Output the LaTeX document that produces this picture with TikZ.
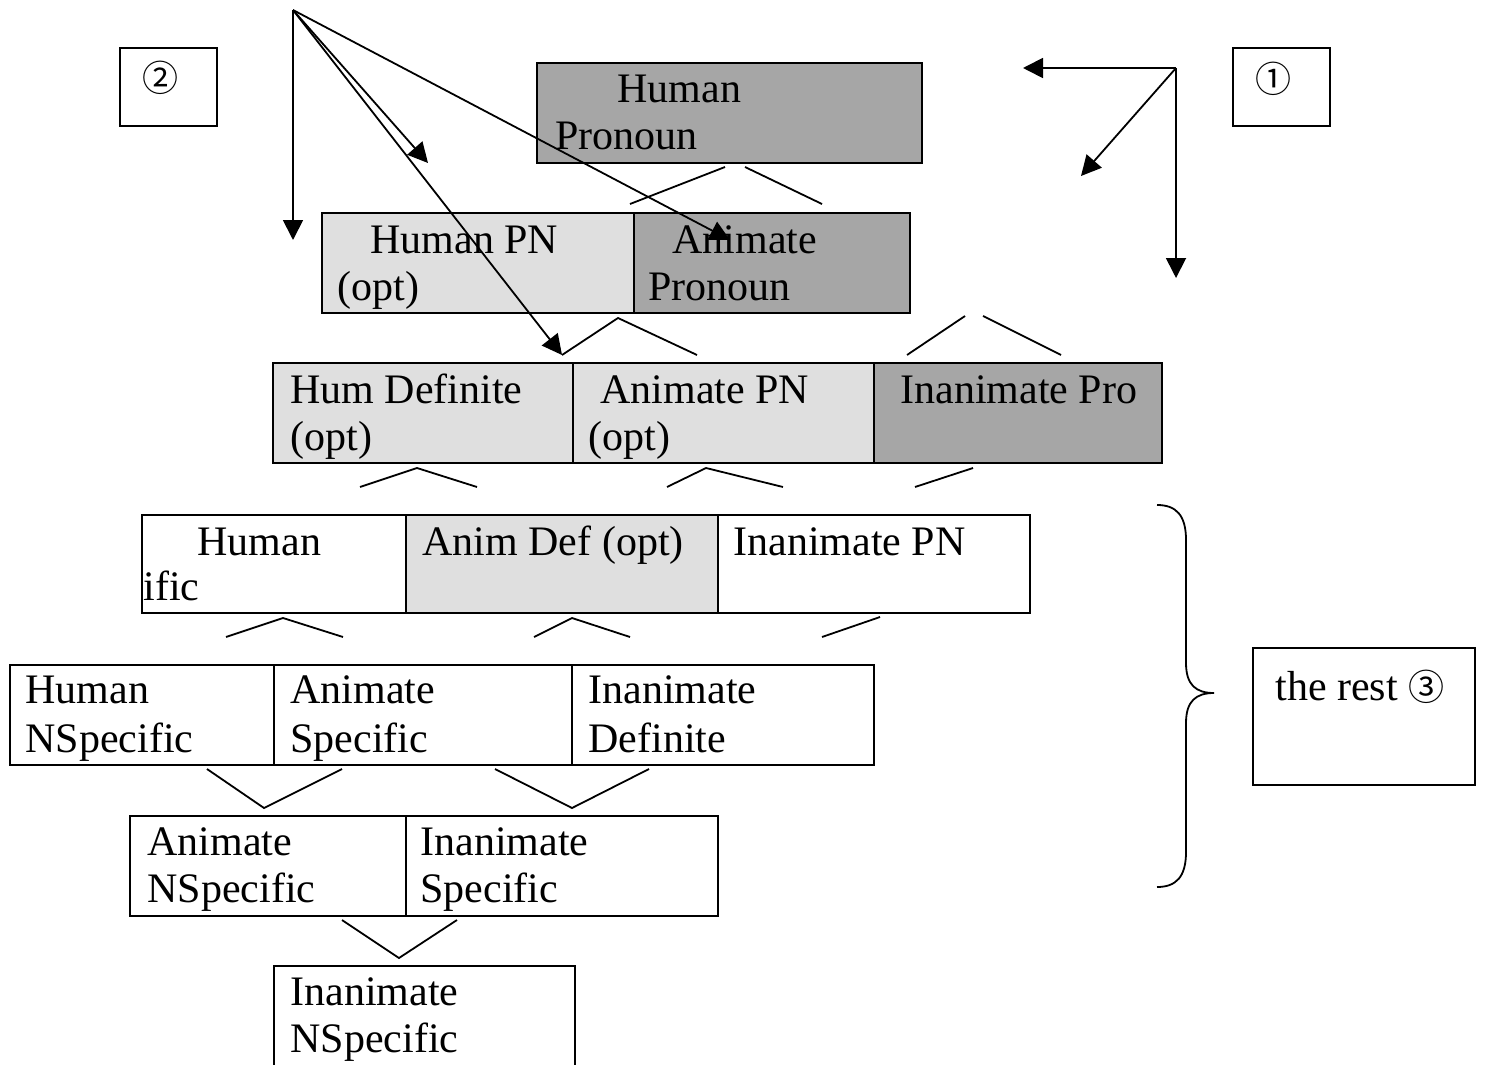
\documentclass[tikz,border=0pt]{standalone}
\usepackage{fontspec}
\setmainfont{Liberation Serif}
\newfontfamily\circfont{Noto Sans CJK SC}
\usetikzlibrary{arrows.meta}
\definecolor{darkcell}{RGB}{166,166,166}
\definecolor{lightcell}{RGB}{223,223,223}
\newcommand{\cellfont}{\fontsize{21}{24}\selectfont}
\newcommand{\enc}[1]{{\circfont\fontsize{18}{20}\selectfont #1}}

\begin{document}
\begin{tikzpicture}[x=0.5pt, y=-0.5pt,
		cellbox/.style={draw=black, line width=1.2pt},
		txt/.style={anchor=base west, inner sep=0pt, font=\cellfont},
		arr/.style={-{Triangle[length=10pt,width=10pt]}, line width=0.9pt},
		fork/.style={line width=0.9pt}]
				\clip (0,0) rectangle (1486,1064);
				% side boxes
				\draw[cellbox] (120,48) rectangle (217,126);
				\draw[cellbox] (1233,48) rectangle (1330,126);
				\draw[cellbox] (1253,648) rectangle (1475,785);
				\node[txt] (two) at (142,92) {\enc{②}};
				\node[txt] (one) at (1255,93) {\enc{①}};
				\node[txt] (rest) at (1275,700) {the rest \enc{③}};
				% rows
				\filldraw[cellbox, fill=darkcell] (537,63) rectangle (922,163);
				\filldraw[cellbox, fill=lightcell] (322,213) rectangle (634,313);
				\filldraw[cellbox, fill=darkcell] (634,213) rectangle (910,313);
				\filldraw[cellbox, fill=lightcell] (273,363) rectangle (573,463);
				\filldraw[cellbox, fill=lightcell] (573,363) rectangle (874,463);
				\filldraw[cellbox, fill=darkcell] (874,363) rectangle (1162,463);
				\filldraw[cellbox, fill=white] (142,515) rectangle (406,613);
				\filldraw[cellbox, fill=lightcell] (406,515) rectangle (718,613);
				\filldraw[cellbox, fill=white] (718,515) rectangle (1030,613);
				\foreach \a/\b in {10/274, 274/572, 572/874}
					\draw[cellbox] (\a,665) rectangle (\b,765);
				\foreach \a/\b in {130/406, 406/718}
					\draw[cellbox] (\a,816) rectangle (\b,916);
				\draw[cellbox] (274,966) rectangle (575,1080);
				% labels
				\node[txt] (humA) at (617,103) {Human};
				\node[txt] (humB) at (555,150) {Pronoun};
				\node[txt] (hpnA) at (370,253) {Human PN};
				\node[txt] (hpnB) at (337,300) {(opt)};
				\node[txt] (aniA) at (672,253) {Animate};
				\node[txt] (aniB) at (648,300) {Pronoun};
				\node[txt] (hdefA) at (290,403) {Hum Definite};
				\node[txt] (hdefB) at (290,450) {(opt)};
				\node[txt] (apnA) at (600,403) {Animate PN};
				\node[txt] (apnB) at (588,450) {(opt)};
				\node[txt] (ipro) at (900,403) {Inanimate Pro};
				\node[txt] (hspA) at (197,555) {Human};
				\node[txt] (hspB) at (143,600) {ific};
				\node[txt] (adef) at (422,555) {Anim Def (opt)};
				\node[txt] (ipn) at (733,555) {Inanimate PN};
				\node[txt] (hnsA) at (25,703) {Human};
				\node[txt] (hnsB) at (25,752) {NSpecific};
				\node[txt] (aspA) at (290,703) {Animate};
				\node[txt] (aspB) at (290,752) {Specific};
				\node[txt] (idefA) at (588,703) {Inanimate};
				\node[txt] (idefB) at (588,752) {Definite};
				\node[txt] (ansA) at (147,855) {Animate};
				\node[txt] (ansB) at (147,902) {NSpecific};
				\node[txt] (ispA) at (420,855) {Inanimate};
				\node[txt] (ispB) at (420,902) {Specific};
				\node[txt] (insA) at (290,1005) {Inanimate};
				\node[txt] (insB) at (290,1052) {NSpecific};
				% forks between rows
				\draw[fork] (630,204) -- (725,167);
				\draw[fork] (745,167) -- (822,204);
				\draw[fork] (562,355) -- (618,318) -- (697,355);
				\draw[fork] (907,355) -- (965,316);
				\draw[fork] (983,316) -- (1061,355);
				\draw[fork] (360,487) -- (417,468) -- (477,487);
				\draw[fork] (667,487) -- (706,468) -- (783,487);
				\draw[fork] (915,487) -- (973,468);
				\draw[fork] (226,637) -- (283,618) -- (343,637);
				\draw[fork] (534,637) -- (572,618) -- (630,637);
				\draw[fork] (822,637) -- (880,617);
				\draw[fork] (207,769) -- (264,808) -- (342,769);
				\draw[fork] (495,769) -- (572,808) -- (649,769);
				\draw[fork] (342,920) -- (399,958) -- (457,920);
				% brace
				\draw[fork] (1157,505) .. controls (1176,505) and (1186,515) .. (1186,540) -- (1186,663)
					.. controls (1186,685) and (1196,693) .. (1214,693)
					.. controls (1196,693) and (1186,701) .. (1186,723) -- (1186,852)
					.. controls (1186,877) and (1176,887) .. (1157,887);
				% arrows
				\coordinate (srcL) at (293,10);
				\coordinate (srcR) at (1176,68);
				\foreach \p in {(293,240), (428,163), (562,355), (730,240)}
					\draw[arr] (srcL) -- \p;
				\foreach \p in {(1023,68), (1081,176), (1176,278)}
					\draw[arr] (srcR) -- \p;
\end{tikzpicture}
\end{document}
